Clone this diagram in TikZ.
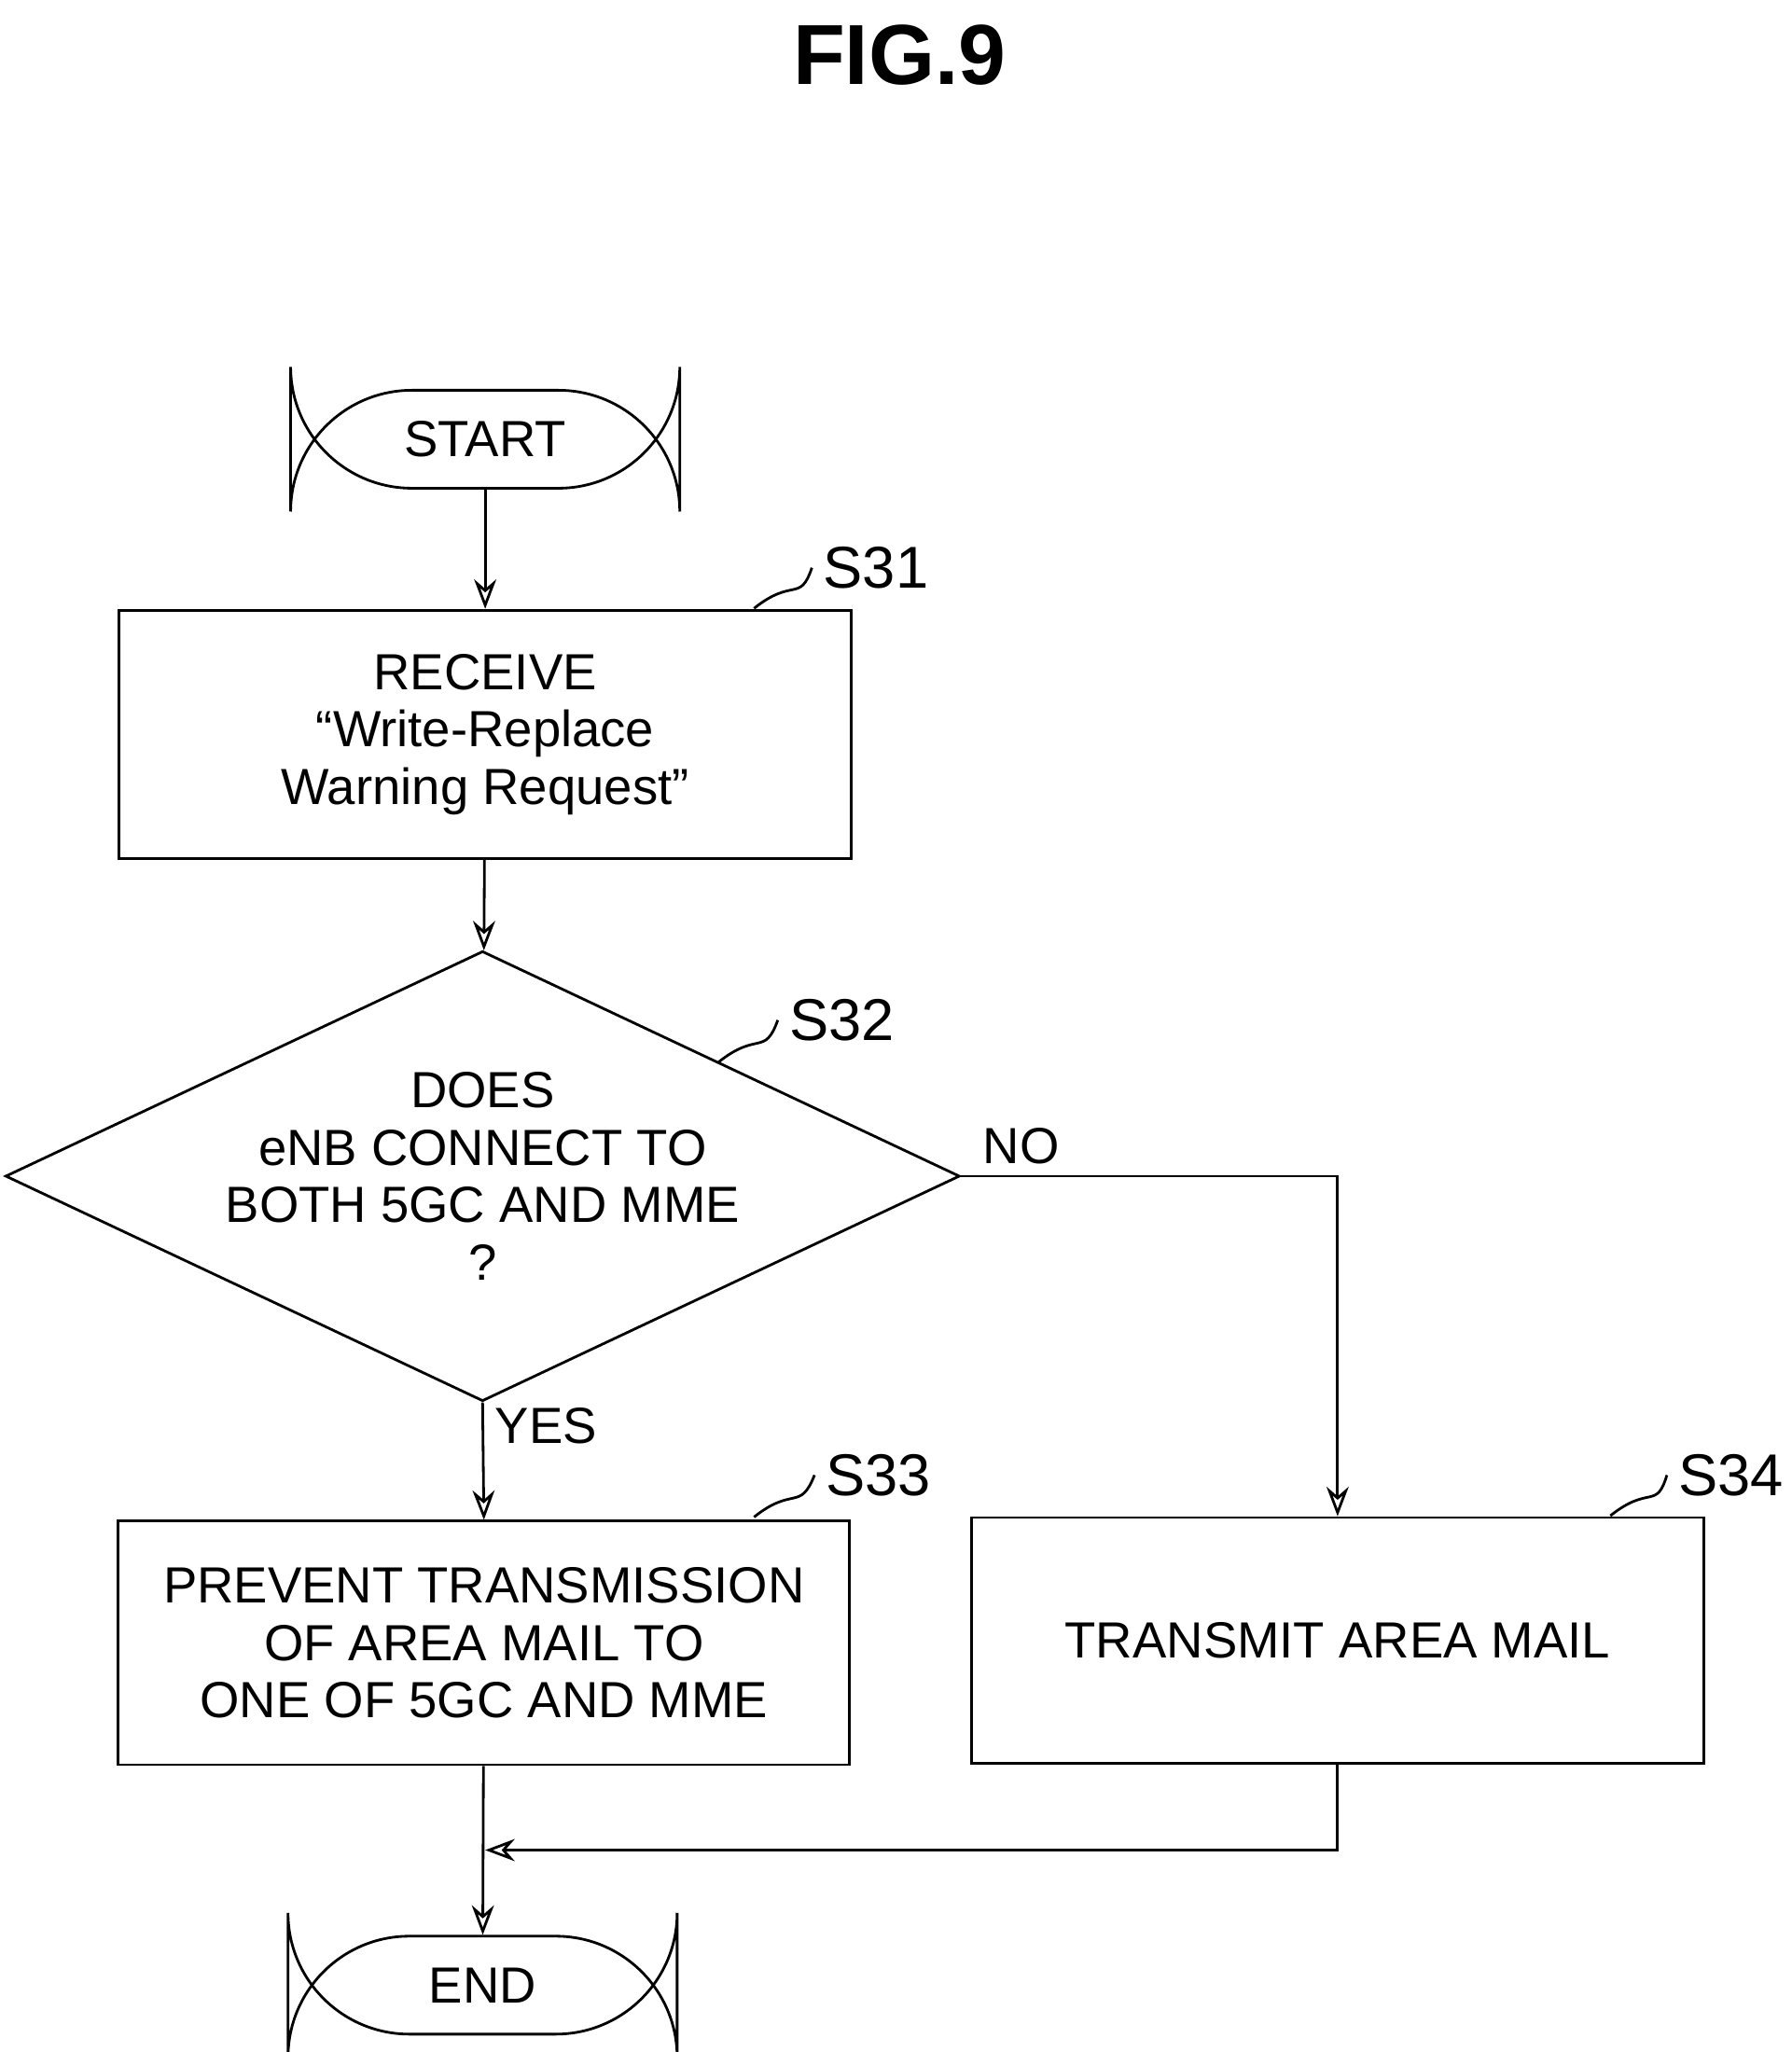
\documentclass[tikz,border=0pt]{standalone}
\usepackage{fontspec}
\setmainfont{Liberation Sans}
\usetikzlibrary{shapes.geometric,arrows.meta}
\tikzset{
  box/.style={draw, thick, rectangle, align=center},
  term/.style={draw, thick, rounded corners=37, minimum width=4.17cm, minimum height=1.05cm},
  dec/.style={draw, thick, diamond, aspect=2.12, inner sep=0pt, minimum width=9.93cm, minimum height=4.68cm, align=center},
  flow/.style={thick, -{Stealth[length=9pt, open]}},
  steplabel/.style={font=\fontsize{18}{20}\selectfont},
  lead/.style={thick}
}
\begin{document}
\begin{tikzpicture}[x=0.01405cm, y=-0.01405cm, font=\fontsize{15.5}{17.5}\selectfont]
\useasboundingbox (0,0) rectangle (1366,1565);
\node (T) at (686,42) {\fontsize{26}{28}\selectfont\bfseries FIG.9};
\node[term] (A) at (370,335) {START};
\node[box, minimum width=7.85cm, minimum height=2.66cm] (B) at (370,560) {RECEIVE\\``Write-Replace\\Warning Request''};
\node[dec] (C) at (368,897) {DOES\\eNB CONNECT TO\\BOTH 5GC AND MME\\?};
\node[box, minimum width=7.84cm, minimum height=2.61cm] (D) at (369,1253) {PREVENT TRANSMISSION\\OF AREA MAIL TO\\ONE OF 5GC AND MME};
\node[box, minimum width=7.85cm, minimum height=2.63cm] (E) at (1020,1251) {TRANSMIT AREA MAIL};
\node[term] (F) at (368,1514) {END};
% step labels
\node[steplabel] (L1) at (668,433) {S31};
\node[steplabel] (L2) at (642,778) {S32};
\node[steplabel] (L3) at (670,1125) {S33};
\node[steplabel] (L4) at (1320,1125) {S34};
\draw[lead] (575,464) .. controls (605,440) and (610,460) .. (L1.west);
\draw[lead] (548,810) .. controls (578,786) and (583,806) .. (L2.west);
\draw[lead] (575,1157) .. controls (605,1133) and (610,1153) .. (L3.west);
\draw[lead] (1228,1156) .. controls (1258,1132) and (1263,1152) .. (L4.west);
% connectors
\coordinate (M) at (370,1411);
\draw[flow] (A) -- (B);
\draw[flow] (B) -- (C);
\draw[flow] (C.south) -- (D.north) node[pos=0.2, right] {YES};
\draw[flow] (C.east) -| (E.north) node[pos=0.08, above] {NO};
\draw[flow] (E.south) |- (M);
\draw[flow] (D) -- (F);
\end{tikzpicture}
\end{document}
